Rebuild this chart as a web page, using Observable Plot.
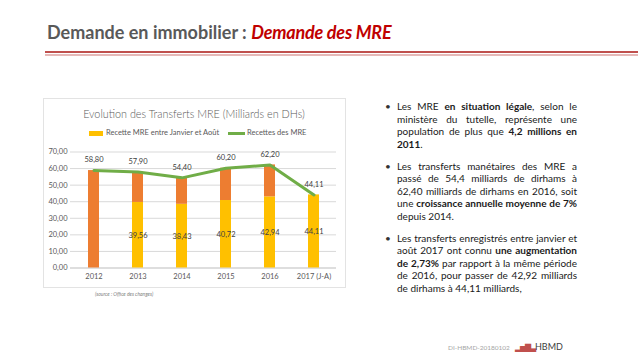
<!DOCTYPE html>
<html><head><meta charset="utf-8">
<script src="https://cdn.jsdelivr.net/npm/d3@7"></script>
<script src="https://cdn.jsdelivr.net/npm/@observablehq/plot@0.6"></script>
<style>
body{margin:0;width:638px;height:359px;background:#fff;position:relative;overflow:hidden;font-family:Lato,"Open Sans",sans-serif;}
.abs{position:absolute;white-space:nowrap;}
#title{left:47px;top:22px;font-size:18px;line-height:20px;font-weight:700;color:#595959;}
#title .r{color:#C00000;font-style:italic;letter-spacing:-0.2px;}
#rule1{position:absolute;left:45px;top:51px;width:593px;height:2px;background:#C0504D;}
#rule2{position:absolute;left:45px;top:54px;width:593px;height:2px;background:#E6B9B8;}
#box{position:absolute;left:43px;top:98px;width:301px;height:188px;border:1px solid #e3e3e3;background:#fff;}
#ctitle{position:absolute;left:43px;top:106px;width:302px;text-align:center;font-size:10.8px;line-height:16px;font-weight:300;color:#595959;}
.lg{position:absolute;font-size:7.5px;line-height:10px;color:#595959;top:128px;white-space:nowrap;}
.sw{position:absolute;}
#chart{position:absolute;left:43px;top:140px;}
#source{left:95px;top:291px;font-size:5px;line-height:6px;font-style:italic;color:#7f7f7f;}
#text{position:absolute;left:385px;top:100px;width:192px;font-size:10px;line-height:12.5px;color:#1a1a1a;}
#text .p{margin:0 0 9.5px 0;padding-left:12px;position:relative;}
#text .p:before{content:"•";position:absolute;left:0;top:0;color:#333;}
#text .l{text-align:justify;text-align-last:justify;white-space:nowrap;}
#text .e{text-align:left;text-align-last:left;white-space:nowrap;}
#text b{font-weight:700;}
#footer{left:448px;top:343px;font-size:6.5px;line-height:10px;color:#a6a6a6;}
#logo{left:515px;top:341px;font-size:9px;line-height:12px;color:#404040;}
#logo .ic{color:#C0504D;font-size:8px;letter-spacing:-1px;}
</style></head><body>
<div id="title" class="abs"><span class="g">Demande en immobilier : </span><span class="r">Demande des MRE</span></div>
<div id="rule1"></div><div id="rule2"></div>
<div id="box"></div>
<div id="ctitle">Evolution des Transferts MRE (Milliards en DHs)</div>
<div class="sw" style="left:89px;top:131px;width:14px;height:5px;background:#FFC000;"></div>
<div class="lg" style="left:106px;">Recette MRE entre Janvier et Août</div>
<div class="sw" style="left:228px;top:132px;width:17px;height:3px;background:#70AD47;"></div>
<div class="lg" style="left:247px;">Recettes des MRE</div>
<div id="chart"></div>
<div id="source" class="abs">(source : Office des changes)</div>
<div id="text">
<div class="p">
<div class="l">Les MRE <b>en situation légale</b>, selon le</div>
<div class="l">ministère du tutelle, représente une</div>
<div class="l">population de plus que <b>4,2 millions en</b></div>
<div class="e"><b>2011</b>.</div>
</div>
<div class="p">
<div class="l">Les transferts manétaires des MRE a</div>
<div class="l">passé de 54,4 milliards de dirhams à</div>
<div class="l">62,40 milliards de dirhams en 2016, soit</div>
<div class="l">une <b>croissance annuelle moyenne de 7%</b></div>
<div class="e">depuis 2014.</div>
</div>
<div class="p">
<div class="l">Les transferts enregistrés entre janvier et</div>
<div class="l">août 2017 ont connu <b>une augmentation</b></div>
<div class="l"><b>de 2,73%</b> par rapport à la même période</div>
<div class="l">de 2016, pour passer de 42,92 milliards</div>
<div class="e">de dirhams à 44,11 milliards,</div>
</div>
</div>
<div id="footer" class="abs">DI-HBMD-20180102</div>
<div id="logo" class="abs"><span class="ic">▂▅▇▃</span>HBMD</div>
<script>
const years = ["2012", "2013", "2014", "2015", "2016", "2017 (J-A)"];
const totals = [58.80, 57.90, 54.40, 60.20, 62.20, 44.11];
const janAout = [null, 39.56, 38.43, 40.72, 42.94, 44.11];
const yTicks = [0, 10, 20, 30, 40, 50, 60, 70];

const fr = v => v.toFixed(2).replace(".", ",");
const data = years.map((y, i) => ({year: y, total: totals[i], ja: janAout[i]}));
const withJa = data.filter(d => d.ja != null);

const chart = Plot.plot({
  width: 302, height: 147,
  marginTop: 11.5, marginBottom: 19.5, marginLeft: 27, marginRight: 9,
  style: {fontSize: "7.5px", color: "#595959", fontFamily: "Lato, 'Open Sans', sans-serif", background: "transparent"},
  x: {domain: years, paddingInner: 0.75, paddingOuter: 0.375, label: null, tickSize: 0, tickPadding: 6},
  y: {domain: [0, 70], ticks: yTicks, tickFormat: fr, label: null, tickSize: 0, tickPadding: 3},
  marks: [
    Plot.gridY(yTicks, {stroke: "#d9d9d9", strokeOpacity: 1}),
    Plot.ruleY([0], {stroke: "#d0d0d0"}),
    Plot.barY(withJa, {x: "year", y1: 0, y2: "ja", fill: "#FFC000"}),
    Plot.barY(data, {x: "year", y1: d => d.ja ?? 0, y2: "total", fill: "#ED7D31"}),
    Plot.line(data, {x: "year", y: "total", stroke: "#70AD47", strokeWidth: 3, strokeLinejoin: "round"}),
    Plot.text(data, {x: "year", y: "total", text: d => fr(d.total), dy: -10.5, fill: "#404040", fontSize: 7.5}),
    Plot.text(withJa, {x: "year", y: d => d.ja / 2, text: d => fr(d.ja), fill: "#404040", fontSize: 7.5})
  ]
});
document.getElementById("chart").appendChild(chart);
</script>
</body></html>
